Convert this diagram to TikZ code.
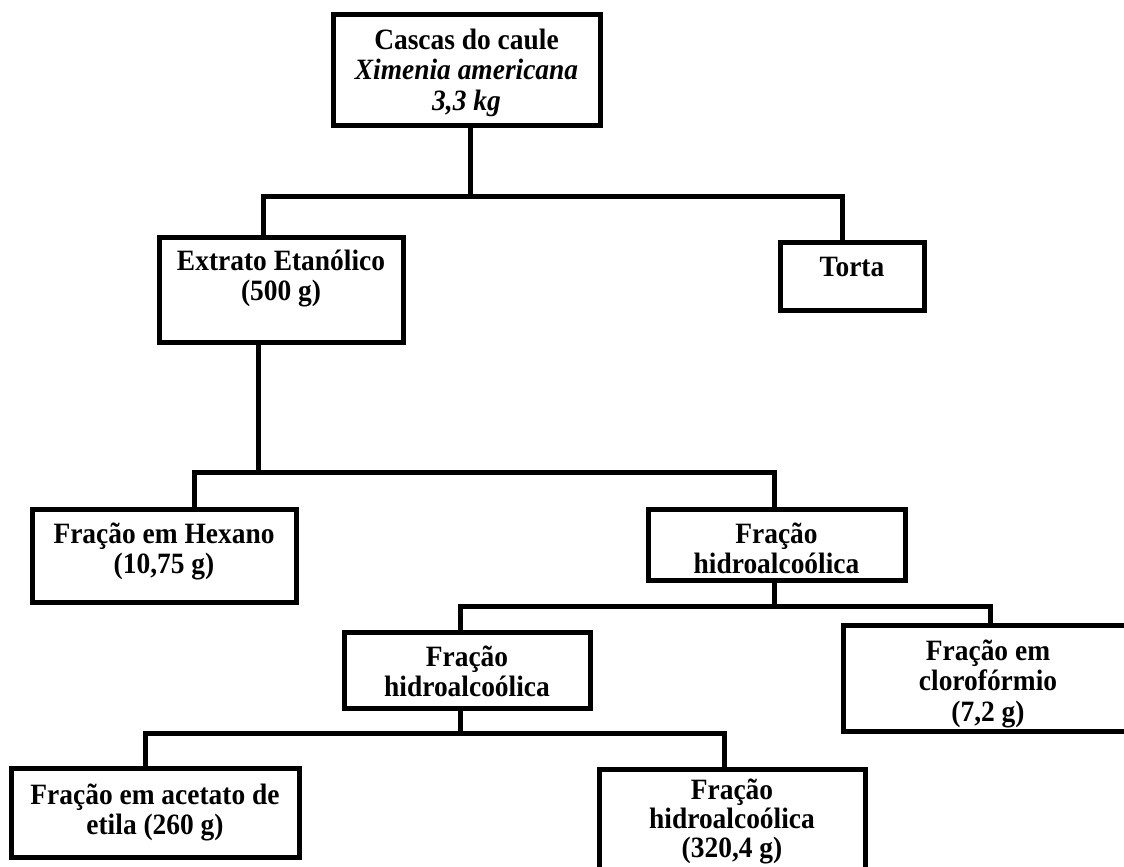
\documentclass[tikz,border=0pt]{standalone}
\usepackage{fontspec}
\setmainfont{Liberation Serif}[FakeStretch=0.93]
\usetikzlibrary{positioning}

\newcommand{\firstline}{\rule{0pt}{24pt}}

\begin{document}
\begin{tikzpicture}[x=1pt, y=-1pt,
  every node/.style={font=\fontsize{29.5}{30.5}\selectfont\bfseries},
  box/.style={draw, line width=5pt, inner sep=0pt},
  txt/.style={anchor=north, align=center, inner sep=0pt},
  conn/.style={line width=5pt},
]
\useasboundingbox (0,0) rectangle (1124,867);
\clip (0,0) rectangle (1124,867);

% Level 0: raw material
\node[box, minimum width=267pt, minimum height=110pt] (cascas) at (466.5,70) {};
\node[txt] (cascas-t) at (466.5,25)
  {\firstline Cascas do caule\\ {\itshape Ximenia americana}\\ {\itshape 3,3 kg}};

% Level 1
\node[box, minimum width=244pt, minimum height=105pt] (extrato) at (281,289.5) {};
\node[txt] (extrato-t) at (281,246) {\firstline Extrato Etanólico\\(500 g)};

\node[box, minimum width=144pt, minimum height=68pt] (torta) at (852,276) {};
\node[txt] (torta-t) at (852,252) {\firstline Torta};

% Level 2
\node[box, minimum width=264pt, minimum height=93pt] (hexano) at (164,555.5) {};
\node[txt] (hexano-t) at (164,519) {\firstline Fração em Hexano\\(10,75 g)};

\node[box, minimum width=257pt, minimum height=71pt] (hidroA) at (776.5,544.5) {};
\node[txt] (hidroA-t) at (776.5,519) {\firstline Fração\\hidroalcoólica};

% Level 3
\node[box, minimum width=246pt, minimum height=76pt] (hidroB) at (467,670) {};
\node[txt] (hidroB-t) at (467,642) {\firstline Fração\\hidroalcoólica};

\node[box, minimum width=290pt, minimum height=106pt] (cloro) at (988,678) {};
\node[txt] (cloro-t) at (988,636) {\firstline Fração em\\clorofórmio\\(7,2 g)};

% Level 4
\node[box, minimum width=288pt, minimum height=89pt] (acetato) at (155,812.5) {};
\node[txt] (acetato-t) at (155,780) {\firstline Fração em acetato de\\etila (260 g)};

\node[box, minimum width=266pt, minimum height=111pt] (hidroC) at (732,824.5) {};
\node[txt, font=\fontsize{29.5}{29}\selectfont\bfseries] (hidroC-t) at (732,775)
  {\firstline Fração\\hidroalcoólica\\(320,4 g)};

% junctions
\coordinate (j1) at (470,196);
\coordinate (j1l) at (263,196);
\coordinate (j1r) at (842,196);
\coordinate (j2) at (258,472);
\coordinate (j2l) at (194,472);
\coordinate (j2r) at (774,472);
\coordinate (j3) at (774,606);
\coordinate (j3l) at (460,606);
\coordinate (j3r) at (990,606);
\coordinate (j4) at (460,733);
\coordinate (j4l) at (145,733);
\coordinate (j4r) at (724,733);

% connectors
\draw[conn] (cascas.south -| j1) -- (j1);
\draw[conn] (extrato.north -| j1l) -- (j1l) -- (j1r) -- (torta.north -| j1r);

\draw[conn] (extrato.south -| j2) -- (j2);
\draw[conn] (hexano.north -| j2l) -- (j2l) -- (j2r) -- (hidroA.north -| j2r);

\draw[conn] (hidroA.south -| j3) -- (j3);
\draw[conn] (hidroB.north -| j3l) -- (j3l) -- (j3r) -- (cloro.north -| j3r);

\draw[conn] (hidroB.south -| j4) -- (j4);
\draw[conn] (acetato.north -| j4l) -- (j4l) -- (j4r) -- (hidroC.north -| j4r);

\end{tikzpicture}
\end{document}
